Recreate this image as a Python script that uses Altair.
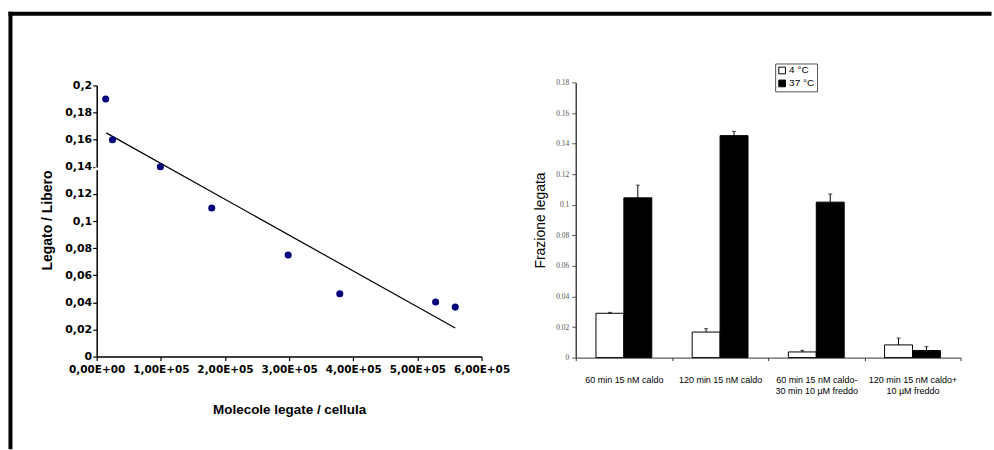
import altair as alt
import pandas as pd

# ---------------- Left panel: Scatchard plot ----------------
sc_x = [14000, 24600, 99300, 179300, 298500, 379000, 528400, 559000]
sc_y = [0.190, 0.160, 0.140, 0.1096, 0.075, 0.0463, 0.0402, 0.0365]
fit_x = [14800, 559000]
fit_y = [0.165, 0.0211]
left_y_ticks = [0, 0.02, 0.04, 0.06, 0.08, 0.1, 0.12, 0.14, 0.16, 0.18, 0.2]
left_x_ticks = [0, 100000, 200000, 300000, 400000, 500000, 600000]
break_y = [0.1375]
break_y2 = [0.1395]

# ---------------- Right panel: bound fraction ----------------
conditions = [
    "60 min 15 nM caldo",
    "120 min 15 nM caldo",
    "60 min 15 nM caldo-|30 min 10 µM freddo",
    "120 min 15 nM caldo+|10 µM  freddo",
]
temps = ["4 °C", "37 °C"]
val_4 = [0.029, 0.0167, 0.0037, 0.0083]
err_4 = [0.0006, 0.0022, 0.0011, 0.0045]
val_37 = [0.1045, 0.1452, 0.1017, 0.0046]
err_37 = [0.0083, 0.0028, 0.0053, 0.0026]
right_y_ticks = [0, 0.02, 0.04, 0.06, 0.08, 0.1, 0.12, 0.14, 0.16, 0.18]

W = 386
H_L = 275
H_R = 276
SANS = "Liberation Sans"
SERIF = "Liberation Serif"

df_sc = pd.DataFrame({"x": sc_x, "y": sc_y})
df_fit = pd.DataFrame({"x": fit_x, "y": fit_y})
df_break = pd.DataFrame({"y1": break_y, "y2": break_y2})
one = pd.DataFrame({"a": [0]})

xsc = alt.Scale(domain=[0, 600000], nice=False, zero=False)
ysc = alt.Scale(domain=[0, 0.2], range=[H_L, 3], nice=False, zero=False)

x_left = alt.X(
    "x:Q", scale=xsc,
    axis=alt.Axis(
        values=left_x_ticks, tickCount=20,
        labelExpr="datum.value == 0 ? '0,00E+00' : format(datum.value/100000, '.0f') + ',00E+05'",
        title="Molecole legate / cellula",
        labelFont="DejaVu Sans", labelFontSize=10.5, labelFontWeight="bold", labelColor="black",
        titleFont=SANS, titleFontSize=13.5, titleFontWeight="bold", titleColor="black",
        titleX=193, titleY=53, titleBaseline="middle", titleAlign="center",
        labelPadding=4, tickSize=4, tickColor="black",
        domainColor="black", domainWidth=1.5, tickWidth=1.2, grid=False,
        labelFlush=False, labelOverlap=False,
    ),
)
y_left = alt.Y(
    "y:Q", scale=ysc,
    axis=alt.Axis(
        values=left_y_ticks, tickCount=40,
        labelExpr="replace(format(datum.value, '~g'), '.', ',')",
        title="Legato / Libero",
        labelFont="DejaVu Sans", labelFontSize=11, labelFontWeight="bold", labelColor="black",
        titleFont=SANS, titleFontSize=14, titleFontWeight="bold", titleColor="black",
        titleX=-49.5, titleY=138, titleBaseline="middle", titleAlign="center", titleAngle=-90,
        labelPadding=1, tickSize=4, tickColor="black",
        domainColor="black", domainWidth=1.5, tickWidth=1.2, grid=False,
        labelFlush=False, labelOverlap=False,
    ),
)

pts = alt.Chart(df_sc).mark_circle(size=50, color="#00007a", opacity=1).encode(x=x_left, y=y_left)
fit = alt.Chart(df_fit).mark_line(color="black", strokeWidth=1.2).encode(x="x:Q", y="y:Q")
brk = alt.Chart(df_break).mark_rule(color="white", strokeWidth=4).encode(
    x=alt.value(0), y="y1:Q", y2="y2:Q"
)
border_top = alt.Chart(one).mark_rule(color="black", strokeWidth=4, strokeCap="butt").encode(
    x=alt.value(-88.5), x2=alt.value(897.5), y=alt.value(-69)
)
border_left = alt.Chart(one).mark_rule(color="black", strokeWidth=4, strokeCap="butt").encode(
    x=alt.value(-86.5), y=alt.value(-71), y2=alt.value(368)
)

left = alt.layer(border_top, border_left, fit, pts, brk).properties(width=W, height=H_L)

# ---------------- Right chart ----------------
rows = []
for i, c in enumerate(conditions):
    rows.append({"cond": c, "temp": temps[0], "val": val_4[i], "hi": val_4[i] + err_4[i]})
    rows.append({"cond": c, "temp": temps[1], "val": val_37[i], "hi": val_37[i] + err_37[i]})
df_bar = pd.DataFrame(rows)

x_right = alt.X(
    "cond:N", sort=conditions,
    scale=alt.Scale(domain=conditions, paddingInner=0, paddingOuter=0),
    axis=alt.Axis(
        title=None, labelExpr="split(datum.label, '|')", tickBand="extent", labelAngle=0,
        labelFont=SANS, labelFontSize=9, labelColor="black", labelPadding=15,
        labelLineHeight=11, tickSize=3, tickColor="#333", domainColor="#333",
        domainWidth=1, labelBaseline="top",
    ),
)
xoff = alt.XOffset(
    "temp:N", sort=temps,
    scale=alt.Scale(domain=temps, paddingInner=0, paddingOuter=0.723),
)
yr_sc = alt.Scale(domain=[0, 0.18], nice=False, zero=True)
y_right = alt.Y(
    "val:Q", scale=yr_sc,
    axis=alt.Axis(
        values=right_y_ticks, tickCount=40, format="~g", title="Frazione legata",
        labelFont=SERIF, labelFontSize=7.5, labelColor="#555",
        titleFont=SANS, titleFontSize=14, titleFontWeight="normal", titleColor="black",
        titlePadding=8, labelPadding=3, tickSize=4, tickColor="#555",
        domainColor="#444", domainWidth=1.5, grid=False,
        labelFlush=False, labelOverlap=False,
    ),
)

bars = alt.Chart(df_bar).mark_bar(stroke="black", strokeWidth=1).encode(
    x=x_right, xOffset=xoff, y=y_right,
    color=alt.Color(
        "temp:N", sort=temps,
        scale=alt.Scale(domain=temps, range=["white", "black"]),
        legend=alt.Legend(
            title=None, orient="none", legendX=680.5, legendY=-19,
            symbolType="square", symbolSize=45, symbolStrokeColor="black",
            symbolStrokeWidth=1, labelFont=SANS, labelFontSize=10, labelColor="black",
            strokeColor="#555", padding=2, rowPadding=1, labelOffset=2,
            fillColor="white",
        ),
    ),
)
errs = alt.Chart(df_bar).mark_rule(color="black", strokeWidth=1).encode(
    x=alt.X("cond:N", sort=conditions), xOffset=alt.XOffset("temp:N", sort=temps),
    y="val:Q", y2="hi:Q",
)
caps = alt.Chart(df_bar).mark_tick(color="black", thickness=1, size=4).encode(
    x=alt.X("cond:N", sort=conditions), xOffset=alt.XOffset("temp:N", sort=temps),
    y="hi:Q",
)

right = alt.layer(bars, errs, caps).properties(width=W, height=H_R)

chart = (
    alt.hconcat(left, right, spacing=94.5, bounds="flush")
    .properties(padding={"left": 6, "top": 9, "right": 0, "bottom": 0}, background="white")
    .configure_view(stroke=None)
)

chart.save("out.html", embed_options={"renderer": "svg", "actions": False})
